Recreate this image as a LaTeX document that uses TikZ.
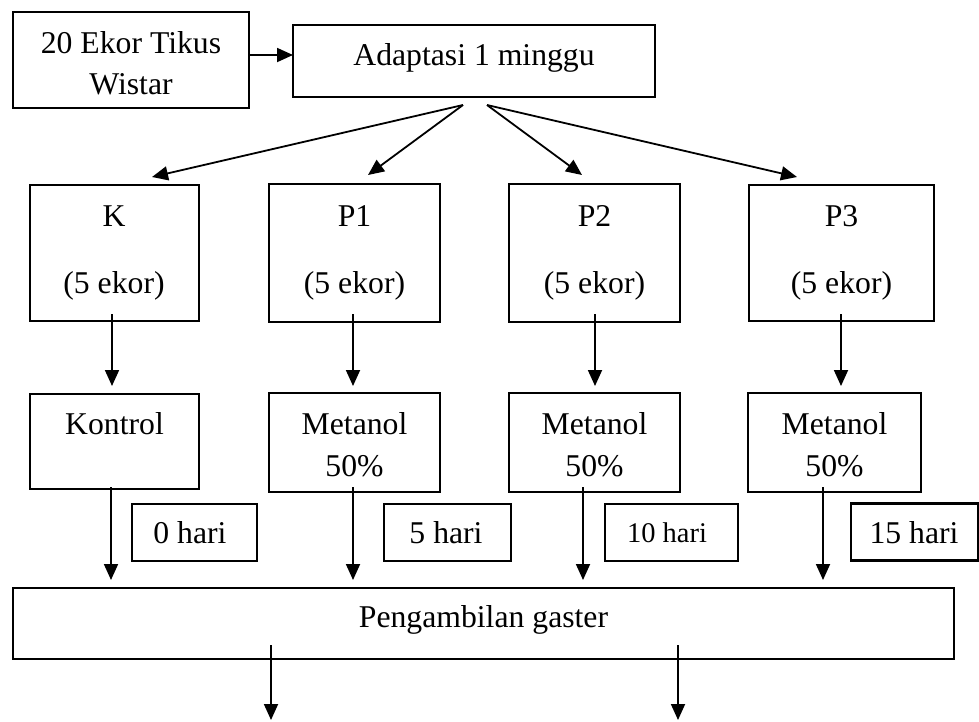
\documentclass[tikz,border=0pt]{standalone}
\usepackage{fontspec}
\setmainfont{Liberation Serif}
\usetikzlibrary{arrows.meta}
\begin{document}
\begin{tikzpicture}[x=1pt,y=-1pt,
  box/.style={draw, line width=2.4pt, inner sep=0pt, outer sep=0pt, rectangle},
  lbl/.style={anchor=base, inner sep=0pt, font=\fontsize{31.7}{38}\selectfont},
  smalllbl/.style={anchor=base, inner sep=0pt, font=\fontsize{28.5}{34}\selectfont},
  arr/.style={line width=1.8pt, -{Triangle[length=16pt,width=14pt]}}]
\useasboundingbox (0,0) rectangle (979,721);
% boxes
\node[box, minimum width=236pt, minimum height=96pt] (src) at (131,60) {};
\node[box, minimum width=362pt, minimum height=72pt] (adapt) at (474,61) {};
\node[box, minimum width=169pt, minimum height=136pt] (k) at (114.5,253) {};
\node[box, minimum width=171pt, minimum height=138pt] (p1) at (354.5,253) {};
\node[box, minimum width=171pt, minimum height=138pt] (p2) at (594.5,253) {};
\node[box, minimum width=185pt, minimum height=136pt] (p3) at (841.5,253) {};
\node[box, minimum width=169pt, minimum height=95pt] (kon) at (114.5,441.5) {};
\node[box, minimum width=171pt, minimum height=99pt] (m1) at (354.5,442.5) {};
\node[box, minimum width=171pt, minimum height=99pt] (m2) at (594.5,442.5) {};
\node[box, minimum width=173pt, minimum height=99pt] (m3) at (834.5,442.5) {};
\node[box, minimum width=125pt, minimum height=57pt] (h0) at (194.5,532.5) {};
\node[box, minimum width=127pt, minimum height=57pt] (h5) at (447.5,532.5) {};
\node[box, minimum width=133pt, minimum height=57pt] (h10) at (671.5,532.5) {};
\node[box, minimum width=127pt, minimum height=57pt] (h15) at (914.5,532) {};
\node[box, minimum width=941pt, minimum height=71pt] (peng) at (483.5,623.5) {};
% texts
\node[lbl] (t1) at (131,53) {20 Ekor Tikus};
\node[lbl] (t2) at (131,94) {Wistar};
\node[lbl] (t3) at (474,65) {Adaptasi 1 minggu};
\node[lbl] (tk) at (114,226) {K};
\node[lbl] (tk2) at (114,293) {(5 ekor)};
\node[lbl] (tp1) at (354.5,226) {P1};
\node[lbl] (tp1b) at (354.5,293) {(5 ekor)};
\node[lbl] (tp2) at (594.5,226) {P2};
\node[lbl] (tp2b) at (594.5,293) {(5 ekor)};
\node[lbl] (tp3) at (841.5,226) {P3};
\node[lbl] (tp3b) at (841.5,293) {(5 ekor)};
\node[lbl] (tkon) at (114.5,434) {Kontrol};
\node[lbl] (tm1) at (354.5,434) {Metanol};
\node[lbl] (tm1b) at (354.5,476) {50\%};
\node[lbl] (tm2) at (594.5,434) {Metanol};
\node[lbl] (tm2b) at (594.5,476) {50\%};
\node[lbl] (tm3) at (834.5,434) {Metanol};
\node[lbl] (tm3b) at (834.5,476) {50\%};
\node[lbl] (th0) at (190,543) {0 hari};
\node[lbl] (th5) at (446,543) {5 hari};
\node[smalllbl] (th10) at (667,542) {10 hari};
\node[lbl] (th15) at (914,543) {15 hari};
\node[lbl] (tpeng) at (483.5,627) {Pengambilan gaster};
% coordinates
\coordinate (aL) at (463,105);
\coordinate (aR) at (487,105);
\coordinate (kin) at (152,177);
\coordinate (p1in) at (368,175);
\coordinate (p2in) at (582,175);
\coordinate (p3in) at (797,177);
\coordinate (kout) at (112,314);  \coordinate (konin) at (112,386);
\coordinate (p1out) at (353,314); \coordinate (m1in) at (353,386);
\coordinate (p2out) at (595,314); \coordinate (m2in) at (595,386);
\coordinate (p3out) at (841,314); \coordinate (m3in) at (841,386);
\coordinate (konout) at (111,487); \coordinate (pk) at (111,580);
\coordinate (m1out) at (353,487);  \coordinate (pm1) at (353,580);
\coordinate (m2out) at (583,487);  \coordinate (pm2) at (583,580);
\coordinate (m3out) at (823,487);  \coordinate (pm3) at (823,580);
\coordinate (b1) at (271,645); \coordinate (b1e) at (271,720);
\coordinate (b2) at (678,645); \coordinate (b2e) at (678,720);
% arrows
\draw[arr] ([yshift=5pt]src.east) -- ([yshift=6pt]adapt.west);
\draw[arr] (aL) -- (kin);
\draw[arr] (aL) -- (p1in);
\draw[arr] (aR) -- (p2in);
\draw[arr] (aR) -- (p3in);
\draw[arr] (kout) -- (konin);
\draw[arr] (p1out) -- (m1in);
\draw[arr] (p2out) -- (m2in);
\draw[arr] (p3out) -- (m3in);
\draw[arr] (konout) -- (pk);
\draw[arr] (m1out) -- (pm1);
\draw[arr] (m2out) -- (pm2);
\draw[arr] (m3out) -- (pm3);
\draw[arr] (b1) -- (b1e);
\draw[arr] (b2) -- (b2e);
\end{tikzpicture}
\end{document}
